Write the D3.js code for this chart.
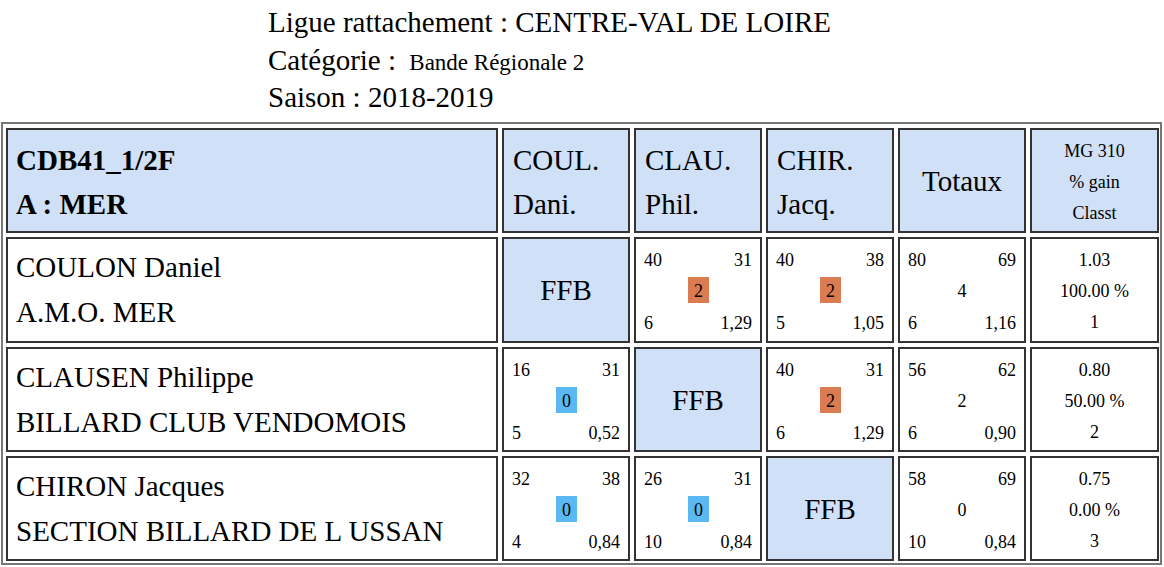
<!DOCTYPE html><html><head><meta charset="utf-8">
<script src="https://cdn.jsdelivr.net/npm/d3@7"></script>
<style>body{margin:0;background:#fff} svg text{font-family:"Liberation Serif","DejaVu Serif",serif}</style></head><body>
<script>
const titleLines=["Ligue rattachement : CENTRE-VAL DE LOIRE","Catégorie : ","Saison : 2018-2019"];
const categorySub="Bande Régionale 2";
const headerCols=[["COUL.","Dani."],["CLAU.","Phil."],["CHIR.","Jacq."]];
const players=[["COULON Daniel","A.M.O. MER"],["CLAUSEN Philippe","BILLARD CLUB VENDOMOIS"],["CHIRON Jacques","SECTION BILLARD DE L USSAN"]];
// match cells: [pts, target, result points, reprises, moyenne] (null = FFB)
const matches=[
 [null,[40,31,2,6,"1,29"],[40,38,2,5,"1,05"]],
 [[16,31,0,5,"0,52"],null,[40,31,2,6,"1,29"]],
 [[32,38,0,4,"0,84"],[26,31,0,10,"0,84"],null]];
const totals=[[80,69,4,6,"1,16"],[56,62,2,6,"0,90"],[58,69,0,10,"0,84"]];
const mg=[["1.03","100.00 %","1"],["0.80","50.00 %","2"],["0.75","0.00 %","3"]];

const svg=d3.select("body").append("svg").attr("width",1164).attr("height",567);
titleLines.forEach((t,i)=>{
 const tx=svg.append("text").attr("x",268).attr("y",32+i*37.5).attr("font-size",29).text(t);
 if(i==1) tx.append("tspan").attr("font-size",23).attr("dx",6).text(categorySub);
});
svg.append("rect").attr("x",2).attr("y",123).attr("width",1159).attr("height",441).attr("fill","none").attr("stroke","#777").attr("stroke-width",2);
const xs=[7,503,635,767,899,1031], ws=[490,126,126,126,126,127];
const ys=[129,238,348,457], h=[103,104,103,103];
const blue="#cfe0f7";
function cell(c,r,fill){
 svg.append("rect").attr("x",xs[c]).attr("y",ys[r]).attr("width",ws[c]).attr("height",h[r]).attr("fill",fill).attr("stroke","#333").attr("stroke-width",2);
}
function txt(x,y,t,o={}){return svg.append("text").attr("x",x).attr("y",y).attr("font-size",o.s||29).attr("font-weight",o.b?"bold":null).attr("text-anchor",o.a||"start").text(t);}
cell(0,0,blue);txt(16,170,"CDB41_1/2F",{b:1});txt(16,214,"A : MER",{b:1});
headerCols.forEach((hc,i)=>{cell(i+1,0,blue);txt(xs[i+1]+10,170,hc[0]);txt(xs[i+1]+10,214,hc[1]);});
cell(4,0,blue);txt(xs[4]+ws[4]/2,191,"Totaux",{a:"middle"});
cell(5,0,blue);["MG 310","% gain","Classt"].forEach((t,k)=>txt(xs[5]+ws[5]/2,157+k*31,t,{a:"middle",s:18}));
function scoreCell(c,r,d,box){
 const x=xs[c],y=ys[r];
 txt(x+9,y+28,d[0],{s:18});txt(x+ws[c]-9,y+28,d[1],{s:18,a:"end"});
 txt(x+9,y+91,d[3],{s:18});txt(x+ws[c]-9,y+91,d[4],{s:18,a:"end"});
 if(box){svg.append("rect").attr("x",x+53).attr("y",y+39).attr("width",21).attr("height",26).attr("fill",d[2]>0?"#db7b52":"#5ab9f2");txt(x+63.5,y+59,d[2],{s:18,a:"middle"});}
 else txt(x+ws[c]/2,y+59,d[2],{s:18,a:"middle"});
}
players.forEach((p,r)=>{
 cell(0,r+1,"#fff");txt(16,ys[r+1]+39,p[0]);txt(16,ys[r+1]+84,p[1]);
 matches[r].forEach((m,c)=>{
  if(m===null){cell(c+1,r+1,blue);txt(xs[c+1]+ws[c+1]/2,ys[r+1]+62,"FFB",{a:"middle"});}
  else{cell(c+1,r+1,"#fff");scoreCell(c+1,r+1,m,true);}
 });
 cell(4,r+1,"#fff");scoreCell(4,r+1,totals[r],false);
 cell(5,r+1,"#fff");mg[r].forEach((t,k)=>txt(xs[5]+ws[5]/2,ys[r+1]+28+k*31,t,{a:"middle",s:18}));
});
</script></body></html>
